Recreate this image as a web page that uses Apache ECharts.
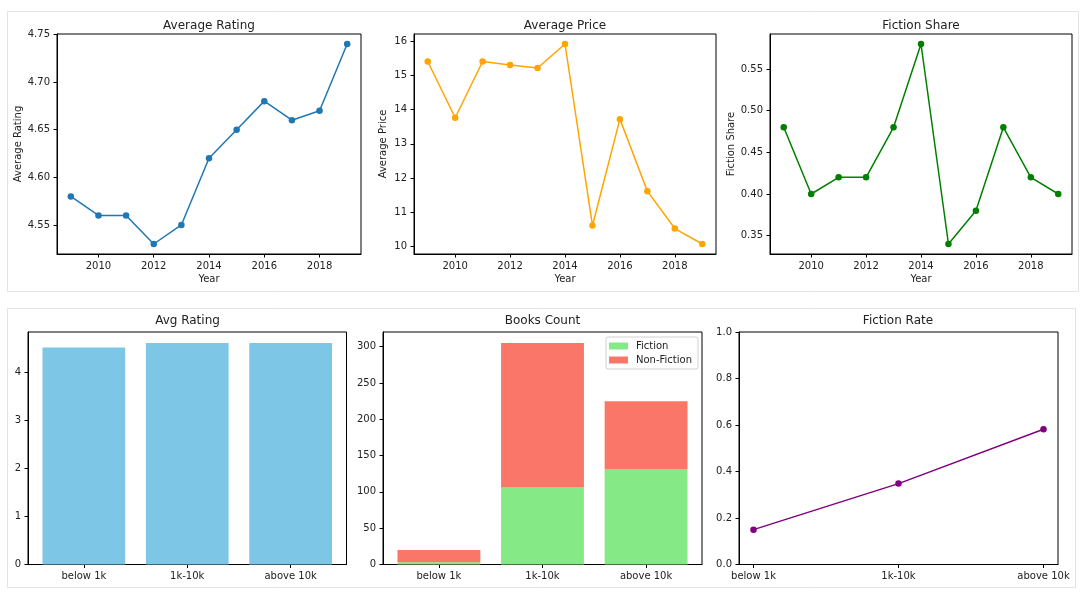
<!DOCTYPE html>
<html>
<head>
<meta charset="utf-8">
<script src="https://cdn.jsdelivr.net/npm/echarts@6/dist/echarts.min.js"></script>
<style>
html,body{margin:0;padding:0;background:#fff;}
#c{width:1086px;height:599px;}
</style>
</head>
<body>
<div id="c"></div>
<script>
// ---- data ----
const years = [2009, 2010, 2011, 2012, 2013, 2014, 2015, 2016, 2017, 2018, 2019];
const avgRating = [4.58, 4.56, 4.56, 4.53, 4.55, 4.62, 4.65, 4.68, 4.66, 4.67, 4.74];
const avgPrice = [15.4, 13.76, 15.4, 15.3, 15.21, 15.91, 10.62, 13.72, 11.62, 10.53, 10.08];
const fictionShare = [0.48, 0.40, 0.42, 0.42, 0.48, 0.58, 0.34, 0.38, 0.48, 0.42, 0.40];
const yearTicks = [2010, 2012, 2014, 2016, 2018];

const reviewGroups = ['below 1k', '1k-10k', 'above 10k'];
const groupAvgRating = [4.51, 4.6, 4.6];
const groupFiction = [3, 106, 131];
const groupNonFiction = [17, 199, 94];
const groupFictionRate = [0.15, 0.348, 0.582];

const ratingTicks = [4.55, 4.60, 4.65, 4.70, 4.75];
const priceTicks = [10, 11, 12, 13, 14, 15, 16];
const shareTicks = [0.35, 0.40, 0.45, 0.50, 0.55];
const groupRatingTicks = [0, 1, 2, 3, 4];
const countTicks = [0, 50, 100, 150, 200, 250, 300];
const rateTicks = [0, 0.2, 0.4, 0.6, 0.8, 1.0];

// ---- helpers ----
const FONT = 'DejaVu Sans';
const TXT = '#222';
function pad(lo, hi, f) { const r = hi - lo; return [lo - r * f, hi + r * f]; }
function pairs(xs, ys) { return xs.map((x, i) => [x, ys[i]]); }

function grid(left, top, width, height) {
  return { left, top, width, height, show: true, borderColor: '#000', borderWidth: 1, backgroundColor: 'transparent', containLabel: false };
}
function valAxis(idx, range, opts) {
  return Object.assign({
    type: 'value', gridIndex: idx, min: range[0], max: range[1], scale: true,
    axisLine: { show: true, onZero: false, lineStyle: { color: '#000', width: 1 } },
    axisTick: { show: true, length: 3.5, inside: false, lineStyle: { color: '#000', width: 1 } },
    axisLabel: { color: TXT, fontSize: 10, fontFamily: FONT, margin: 7 },
    splitLine: { show: false },
    nameTextStyle: { color: TXT, fontSize: 10, fontFamily: FONT },
    nameLocation: 'middle'
  }, opts || {});
}
function withTicks(ax, ticks, fmt) {
  ax.axisTick.customValues = ticks;
  ax.axisLabel.customValues = ticks;
  if (fmt) ax.axisLabel.formatter = fmt;
  return ax;
}

const yearRange = pad(years[0], years[years.length - 1], 0.05);
const barRange = pad(-0.4, reviewGroups.length - 1 + 0.4, 0.05);
const lineCatRange = pad(0, reviewGroups.length - 1, 0.05);
const catIdx = reviewGroups.map((_, i) => i);
const catFmt = v => reviewGroups[Math.round(v)];
const yearFmt = v => String(Math.round(v));

const totals = groupFiction.map((v, i) => v + groupNonFiction[i]);

const G = [
  [57, 34, 304, 220],
  [414, 34, 302, 220],
  [770, 34, 302, 220],
  [28, 332, 318.5, 232.5],
  [383, 332, 319, 232.5],
  [739, 332, 319, 232.5]
];

const xAxes = [
  withTicks(valAxis(0, yearRange, { name: 'Year', nameGap: 20 }), yearTicks, yearFmt),
  withTicks(valAxis(1, yearRange, { name: 'Year', nameGap: 20 }), yearTicks, yearFmt),
  withTicks(valAxis(2, yearRange, { name: 'Year', nameGap: 20 }), yearTicks, yearFmt),
  withTicks(valAxis(3, barRange), catIdx, catFmt),
  withTicks(valAxis(4, barRange), catIdx, catFmt),
  withTicks(valAxis(5, lineCatRange), catIdx, catFmt)
];
const ratingRange = pad(Math.min(...avgRating), Math.max(...avgRating), 0.05);
const priceRange = pad(Math.min(...avgPrice), Math.max(...avgPrice), 0.05);
const shareRange = pad(Math.min(...fictionShare), Math.max(...fictionShare), 0.05);
const yAxes = [
  withTicks(valAxis(0, ratingRange, { name: 'Average Rating', nameGap: 32, nameRotate: 90 }), ratingTicks, v => v.toFixed(2)),
  withTicks(valAxis(1, priceRange, { name: 'Average Price', nameGap: 26, nameRotate: 90 }), priceTicks, v => String(Math.round(v))),
  withTicks(valAxis(2, shareRange, { name: 'Fiction Share', nameGap: 34, nameRotate: 90 }), shareTicks, v => v.toFixed(2)),
  withTicks(valAxis(3, [0, Math.max(...groupAvgRating) * 1.05]), groupRatingTicks, v => String(Math.round(v))),
  withTicks(valAxis(4, [0, Math.max(...totals) * 1.05]), countTicks, v => String(Math.round(v))),
  withTicks(valAxis(5, [0, 1]), rateTicks, v => v.toFixed(1))
];

function lineSeries(idx, data, color) {
  return {
    type: 'line', xAxisIndex: idx, yAxisIndex: idx, data, symbol: 'circle', symbolSize: 6.5,
    itemStyle: { color }, lineStyle: { color, width: 1.5 }, animation: false, silent: true
  };
}
// value first, group index second, so the value dimension is the stacked one
function stackData(vals) { return vals.map((v, i) => [v, catIdx[i]]); }

const titleStyle = { color: TXT, fontSize: 12, fontFamily: FONT, fontWeight: 'normal' };
function title(text, cx, top) {
  return { text, left: cx, top, textAlign: 'center', padding: 0, textStyle: titleStyle };
}

const option = {
  animation: false,
  backgroundColor: '#fff',
  title: [
    title('Average Rating', 209, 20),
    title('Average Price', 565, 20),
    title('Fiction Share', 921, 20),
    title('Avg Rating', 187.5, 315),
    title('Books Count', 542.5, 315),
    title('Fiction Rate', 898, 315)
  ],
  graphic: [
    { type: 'rect', shape: { x: 7.5, y: 11.5, width: 1071, height: 280 }, style: { fill: 'none', stroke: '#e3e3e3', lineWidth: 1 }, silent: true, z: -10 },
    { type: 'rect', shape: { x: 7.5, y: 308.5, width: 1068, height: 279 }, style: { fill: 'none', stroke: '#e3e3e3', lineWidth: 1 }, silent: true, z: -10 }
  ],
  legend: {
    data: ['Fiction', 'Non-Fiction'],
    orient: 'vertical', left: 606, top: 337,
    itemWidth: 19, itemHeight: 7, itemGap: 4, icon: 'rect',
    backgroundColor: '#fff', borderColor: '#d0d0d0', borderWidth: 1, borderRadius: 2,
    padding: [4, 6, 4, 3],
    textStyle: { color: TXT, fontSize: 10, fontFamily: FONT, padding: [0, 0, 0, 3] },
    selectedMode: false
  },
  grid: G.map(g => grid(g[0], g[1], g[2], g[3])),
  xAxis: xAxes,
  yAxis: yAxes,
  series: [
    lineSeries(0, pairs(years, avgRating), '#1f77b4'),
    lineSeries(1, pairs(years, avgPrice), '#FFA500'),
    lineSeries(2, pairs(years, fictionShare), '#008000'),
    {
      type: 'bar', xAxisIndex: 3, yAxisIndex: 3, data: pairs(catIdx, groupAvgRating),
      barWidth: '80%', itemStyle: { color: '#7EC6E6' }, silent: true
    },
    {
      name: 'Fiction', type: 'bar', xAxisIndex: 4, yAxisIndex: 4, stack: 'books',
      dimensions: ['count', 'group'], encode: { x: 1, y: 0 },
      data: stackData(groupFiction), barWidth: '80%', itemStyle: { color: '#85EA85' }, silent: true
    },
    {
      name: 'Non-Fiction', type: 'bar', xAxisIndex: 4, yAxisIndex: 4, stack: 'books',
      dimensions: ['count', 'group'], encode: { x: 1, y: 0 },
      data: stackData(groupNonFiction), barWidth: '80%', itemStyle: { color: '#F97668' }, silent: true
    },
    lineSeries(5, pairs(catIdx, groupFictionRate), '#800080')
  ]
};

const chart = echarts.init(document.getElementById('c'), null, { renderer: 'canvas' });
chart.setOption(option);
</script>
</body>
</html>
